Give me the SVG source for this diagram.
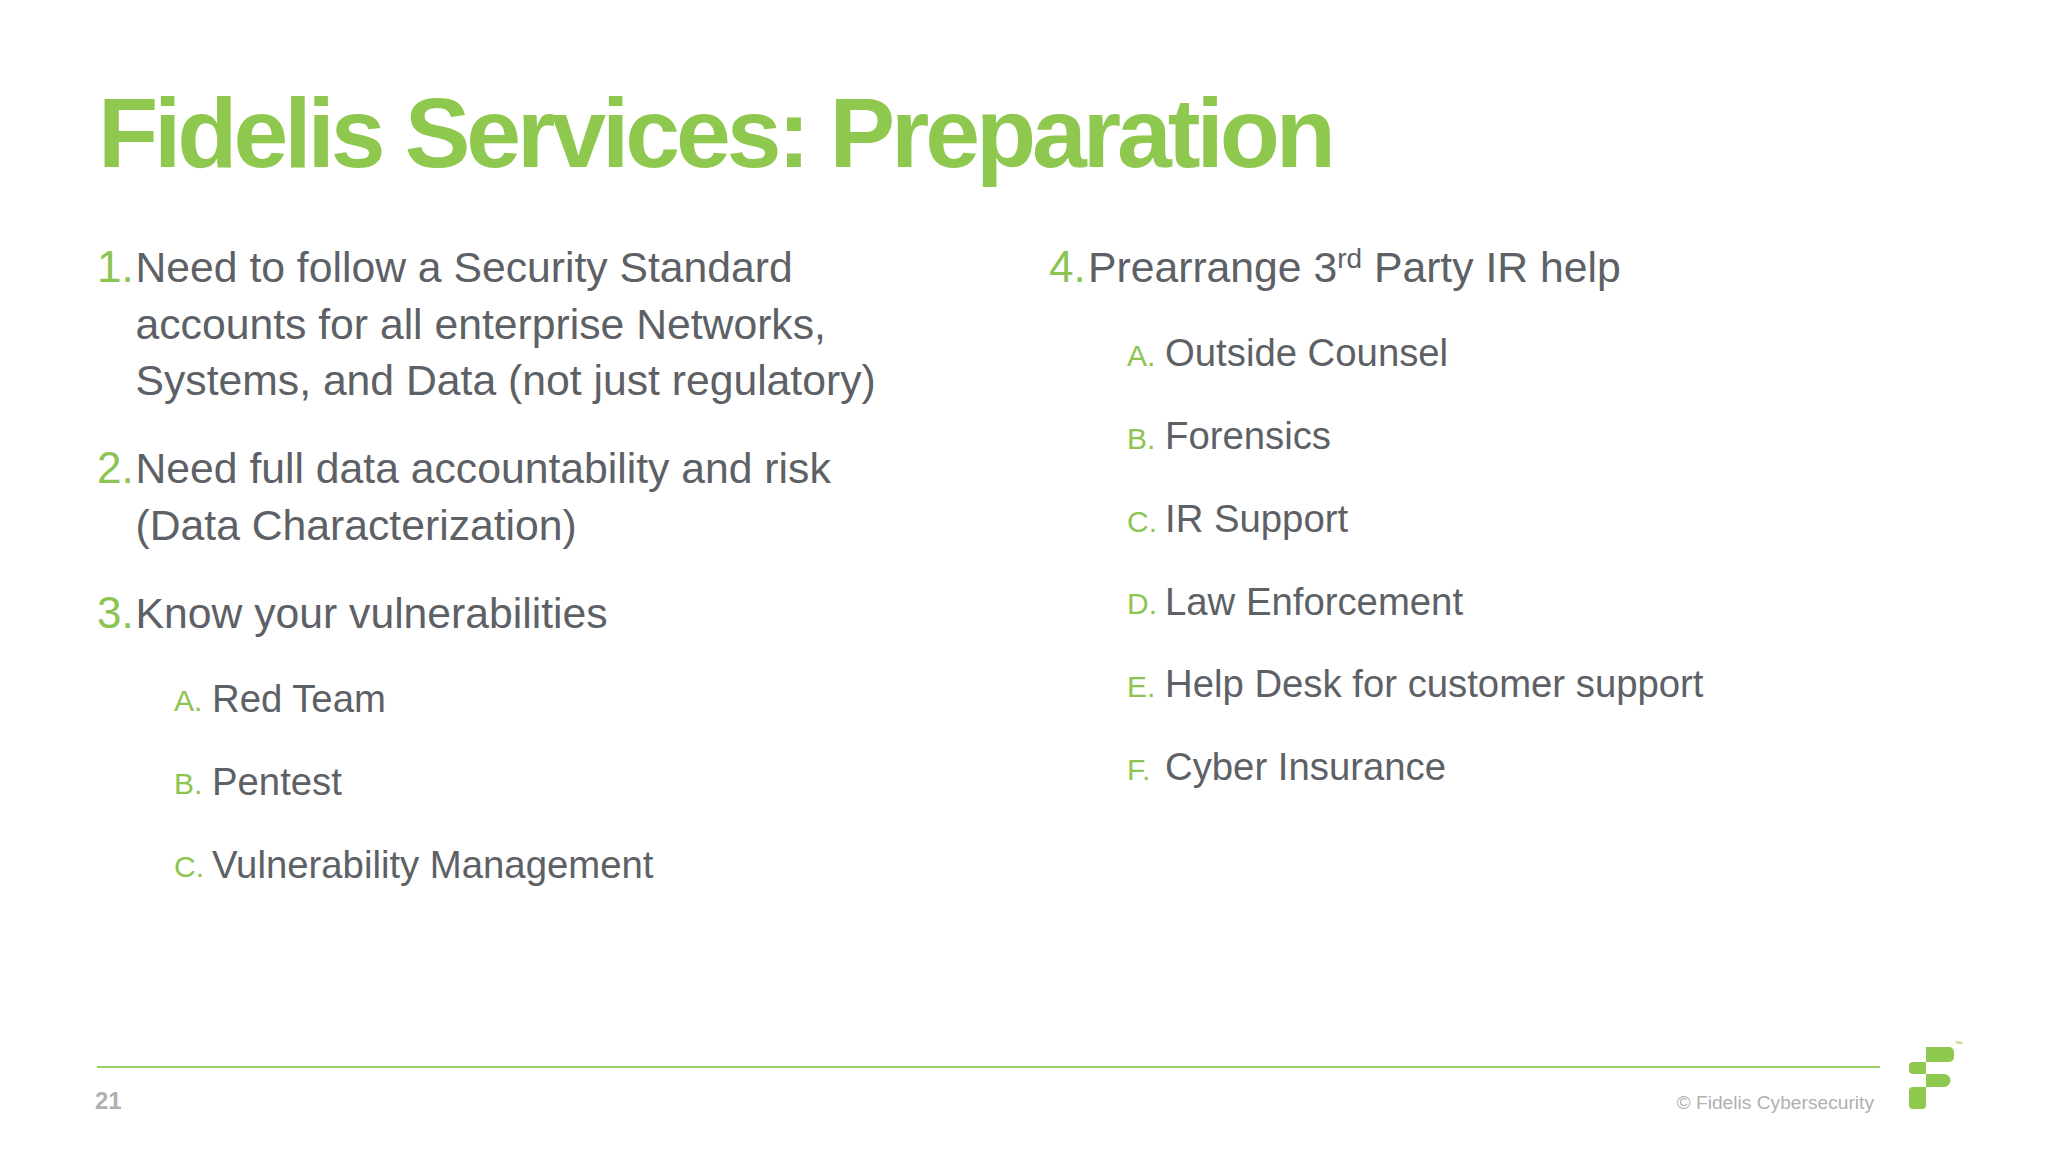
<svg xmlns="http://www.w3.org/2000/svg" width="2048" height="1152" viewBox="0 0 2048 1152">
<style>
text{font-family:"Liberation Sans",Arial,sans-serif}
.t{font-size:98.500px;font-weight:700;fill:#8fc84f;letter-spacing:-4.080px}
.n{font-size:44px;fill:#8cc451}
.b{font-size:42.7px;fill:#5d6166}
.l{font-size:30px;fill:#8cc451}
.s{font-size:38.3px;fill:#5d6166}
.sup{font-size:28px}
.g{fill:#8fc84f}
</style>
<rect width="2048" height="1152" fill="#fff"/>
<g id="title"><text class="t" x="98" y="167">Fidelis Services: Preparation</text></g>
<g id="left">
<text class="n" x="97" y="282">1.</text>
<text class="b" x="135.500" y="282">Need to follow a Security Standard</text>
<text class="b" x="135.500" y="338.500">accounts for all enterprise Networks,</text>
<text class="b" x="135.500" y="394.500">Systems, and Data (not just regulatory)</text>
<text class="n" x="97" y="483">2.</text>
<text class="b" x="135.500" y="483">Need full data accountability and risk</text>
<text class="b" x="135.500" y="539.500">(Data Characterization)</text>
<text class="n" x="97" y="628">3.</text>
<text class="b" x="135.500" y="628">Know your vulnerabilities</text>
<text class="l" x="174" y="711">A.</text><text class="s" x="212" y="712">Red Team</text>
<text class="l" x="174" y="794">B.</text><text class="s" x="212" y="795">Pentest</text>
<text class="l" x="174" y="877">C.</text><text class="s" x="212" y="877.500">Vulnerability Management</text>
</g>
<g id="right">
<text class="n" x="1049" y="282">4.</text>
<text class="b" x="1088" y="282">Prearrange 3<tspan class="sup" dy="-14">rd</tspan><tspan dy="14"> Party IR help</tspan></text>
<text class="l" x="1127" y="366">A.</text><text class="s" x="1165" y="366.300">Outside Counsel</text>
<text class="l" x="1127" y="449">B.</text><text class="s" x="1165" y="449.300">Forensics</text>
<text class="l" x="1127" y="532">C.</text><text class="s" x="1165" y="532.300">IR Support</text>
<text class="l" x="1127" y="614">D.</text><text class="s" x="1165" y="614.500">Law Enforcement</text>
<text class="l" x="1127" y="697">E.</text><text class="s" x="1165" y="697.300">Help Desk for customer support</text>
<text class="l" x="1127" y="780">F.</text><text class="s" x="1165" y="780.300">Cyber Insurance</text>
</g>
<g id="footer">
<rect x="97" y="1066" width="1783" height="2" fill="#9ccf6b"/>
<text x="95" y="1109" font-size="24" font-weight="700" fill="#aeb0b2">21</text>
<text x="1874" y="1108.500" font-size="19.200" text-anchor="end" fill="#aeb0b2">© Fidelis Cybersecurity</text>
</g>
<g id="logo">
<path class="g" d="M1926 1047h23a5 5 0 0 1 5 5v5a5 5 0 0 1-5 5h-23z"/>
<path class="g" d="M1926 1062v12h-13a4 4 0 0 1-4-4v-4a4 4 0 0 1 4-4z"/>
<path class="g" d="M1926 1074h18a6.500 6.500 0 0 1 0 13h-18z"/>
<path class="g" d="M1913 1087h13v18a4 4 0 0 1-4 4h-9a4 4 0 0 1-4-4v-14a4 4 0 0 1 4-4z"/>
<text x="1955" y="1047" font-size="8" font-weight="700" fill="#8fc84f">™</text>
</g>
</svg>
